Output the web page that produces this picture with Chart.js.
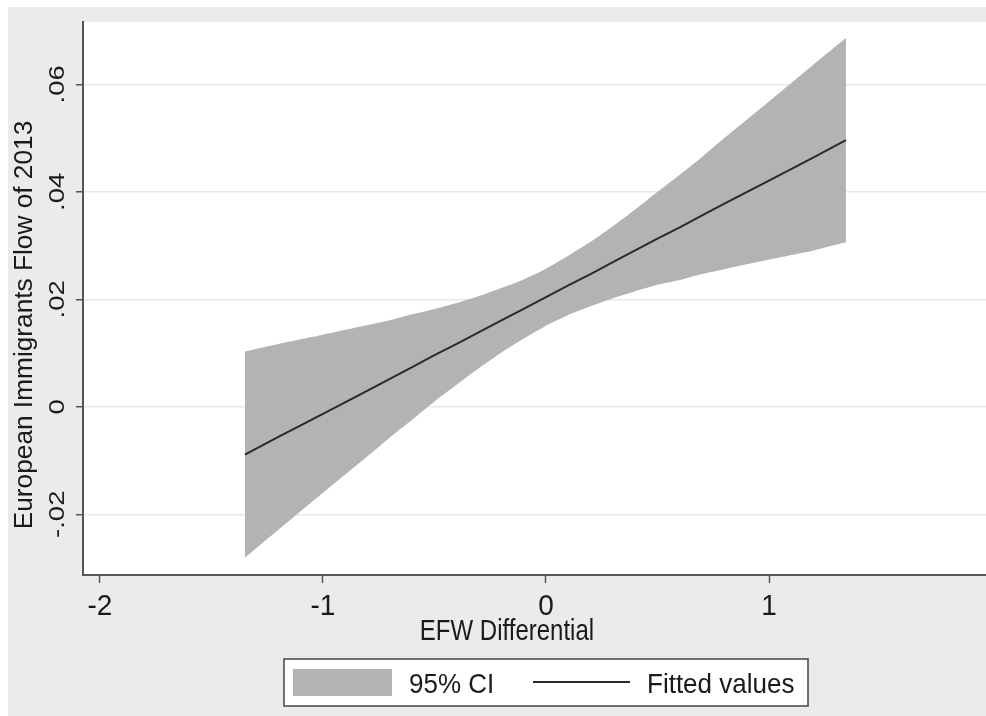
<!DOCTYPE html>
<html>
<head>
<meta charset="utf-8">
<script src="https://cdn.jsdelivr.net/npm/chart.js@4"></script>
<style>
  html, body { margin: 0; padding: 0; background: #ffffff; }
  #box { width: 986px; height: 716px; position: relative; }
</style>
</head>
<body>
<div id="box"><canvas id="myChart"></canvas></div>
<script>
// values
var ciX = [-1.35, -1.2, -1.0, -0.8, -0.7, -0.6, -0.5, -0.4, -0.3, -0.2, -0.1, 0, 0.1, 0.2, 0.3, 0.4, 0.5, 0.6, 0.7, 0.8, 1.0, 1.2, 1.345];
var ciUpper = [0.0103, 0.0117, 0.0134, 0.0152, 0.0161, 0.0172, 0.0182, 0.0193, 0.0206, 0.0221, 0.0237, 0.0257, 0.0281, 0.0307, 0.0336, 0.0367, 0.0400, 0.0432, 0.0465, 0.0500, 0.0568, 0.0637, 0.0686];
var ciLower = [-0.0281, -0.0229, -0.0160, -0.0092, -0.0057, -0.0024, 0.0010, 0.0041, 0.0072, 0.0101, 0.0127, 0.0151, 0.0171, 0.0187, 0.0202, 0.0215, 0.0227, 0.0236, 0.0247, 0.0256, 0.0274, 0.0291, 0.0306];
var fitted = [-0.0089, -0.0056, -0.0013, 0.0030, 0.0052, 0.0074, 0.0096, 0.0117, 0.0139, 0.0161, 0.0182, 0.0204, 0.0226, 0.0247, 0.0269, 0.0291, 0.0313, 0.0334, 0.0356, 0.0378, 0.0421, 0.0464, 0.0496];

var xTicks = [-2, -1, 0, 1];
var xTickLabels = ['-2', '-1', '0', '1'];
var yTicks = [-0.02, 0, 0.02, 0.04, 0.06];
var yTickLabels = ['-.02', '0', '.02', '.04', '.06'];

var xTitle = 'EFW Differential';
var yTitle = 'European Immigrants Flow of 2013';
var legendLabels = ['95% CI', 'Fitted values'];

var bandColor = '#b3b3b3';
var lineColor = '#2a2a2a';
var axisColor = '#555555';
var textColor = '#1a1a1a';

function points(xs, ys) {
    var out = [];
    for (var i = 0; i < xs.length; i++) {
        out.push({x: xs[i], y: ys[i]});
    }
    return out;
}

// text is a bit taller than wide in the original, so stretch it vertically
function drawText(ctx, txt, x, y, size, stretch, rotated, align) {
    ctx.save();
    ctx.translate(x, y);
    ctx.scale(1, stretch);
    if (rotated) ctx.rotate(-Math.PI / 2);
    ctx.font = size + 'px "Liberation Sans", Arial, sans-serif';
    ctx.textAlign = align || 'center';
    ctx.textBaseline = 'alphabetic';
    ctx.fillStyle = textColor;
    ctx.fillText(txt, 0, 0);
    ctx.restore();
}

var stataFrame = {
    id: 'stataFrame',
    beforeDraw: function (chart) {
        var ctx = chart.ctx;
        var a = chart.chartArea;
        ctx.save();
        ctx.fillStyle = '#ebebeb';
        ctx.fillRect(8, 7, chart.width - 8, chart.height - 7);
        ctx.fillStyle = '#ffffff';
        ctx.fillRect(a.left, a.top, a.right - a.left, a.bottom - a.top);
        ctx.restore();
    },
    afterDraw: function (chart) {
        var ctx = chart.ctx;
        var xs = chart.scales.x;
        var ys = chart.scales.y;

        for (var i = 0; i < xTicks.length; i++) {
            drawText(ctx, xTickLabels[i], xs.getPixelForValue(xTicks[i]), 615, 28, 1.05, false);
        }
        for (var j = 0; j < yTicks.length; j++) {
            drawText(ctx, yTickLabels[j], 64, ys.getPixelForValue(yTicks[j]), 22, 1.25, true);
        }
        drawText(ctx, xTitle, 507, 640, 24, 1.2, false);
        drawText(ctx, yTitle, 32, 325, 25, 1.05, true);

        // legend box
        ctx.save();
        ctx.fillStyle = '#ffffff';
        ctx.fillRect(284, 659, 524, 47);
        ctx.strokeStyle = '#444444';
        ctx.lineWidth = 1.5;
        ctx.strokeRect(284, 659, 524, 47);
        ctx.fillStyle = bandColor;
        ctx.fillRect(293, 669, 99, 27);
        ctx.strokeStyle = lineColor;
        ctx.lineWidth = 2;
        ctx.beginPath();
        ctx.moveTo(533, 682);
        ctx.lineTo(630, 682);
        ctx.stroke();
        ctx.restore();
        drawText(ctx, legendLabels[0], 409, 693, 26, 1.08, false, 'left');
        drawText(ctx, legendLabels[1], 647, 693, 26, 1.08, false, 'left');
    }
};

var ctx = document.getElementById('myChart').getContext('2d');
var mychart = new Chart(ctx, {
    type: 'scatter',
    data: {
        datasets: [{
            label: legendLabels[1],
            data: points(ciX, fitted),
            showLine: true,
            borderColor: lineColor,
            borderWidth: 2,
            pointRadius: 0,
            fill: false,
            order: 0
        }, {
            label: legendLabels[0],
            data: points(ciX, ciUpper),
            showLine: true,
            tension: 0.2,
            borderColor: 'rgba(0,0,0,0)',
            borderWidth: 0,
            backgroundColor: bandColor,
            pointRadius: 0,
            fill: '+1',
            order: 1
        }, {
            label: 'lower',
            data: points(ciX, ciLower),
            showLine: true,
            tension: 0.2,
            borderColor: 'rgba(0,0,0,0)',
            borderWidth: 0,
            pointRadius: 0,
            fill: false,
            order: 2
        }]
    },
    options: {
        responsive: true,
        maintainAspectRatio: false,
        animation: false,
        layout: { padding: { top: 22, right: 0, bottom: 0, left: 0 } },
        plugins: {
            legend: { display: false },
            tooltip: { enabled: false }
        },
        scales: {
            x: {
                type: 'linear',
                min: -2.076,
                max: 1.973,
                afterBuildTicks: function (scale) {
                    scale.ticks = xTicks.map(function (v) { return {value: v}; });
                },
                afterFit: function (scale) { scale.height = 141; },
                ticks: { display: false },
                grid: {
                    drawOnChartArea: false,
                    drawTicks: true,
                    tickLength: 8,
                    tickColor: axisColor,
                    tickWidth: 1.5
                },
                border: { display: true, color: axisColor, width: 2 }
            },
            y: {
                type: 'linear',
                min: -0.0313,
                max: 0.0716,
                afterBuildTicks: function (scale) {
                    scale.ticks = yTicks.map(function (v) { return {value: v}; });
                },
                afterFit: function (scale) { scale.width = 83; },
                ticks: { display: false },
                grid: {
                    color: '#e8e8e8',
                    lineWidth: 1.5,
                    drawTicks: true,
                    tickLength: 7,
                    tickColor: axisColor,
                    tickWidth: 1.5
                },
                border: { display: true, color: axisColor, width: 2 }
            }
        }
    },
    plugins: [stataFrame]
});
</script>
</body>
</html>
